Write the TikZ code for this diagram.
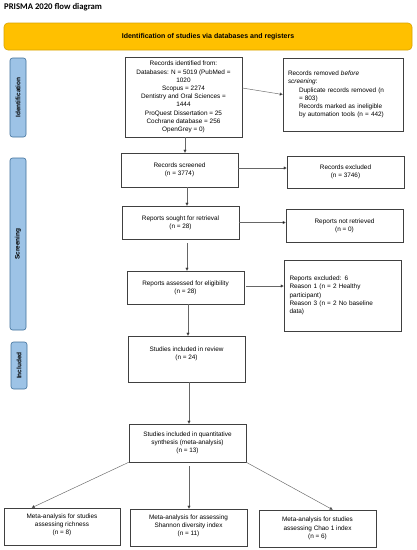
\documentclass[tikz,border=0pt]{standalone}
\usepackage{fontspec}
\setmainfont{Liberation Sans}
\newfontfamily\titlefont{Carlito}
\usetikzlibrary{arrows.meta,calc}
\definecolor{bannerfill}{HTML}{FFC000}
\definecolor{bannerline}{HTML}{D9A400}
\definecolor{sidefill}{HTML}{9DC3E6}
\definecolor{sideline}{HTML}{41719C}
\tikzset{
  box/.style={draw=black!75, line width=0.5pt, fill=white, inner sep=1pt, align=center,
    font=\fontsize{6.4}{8.2}\selectfont},
  side/.style={draw=sideline, fill=sidefill, rounded corners=2.5pt, line width=0.6pt,
    rotate=90, inner sep=0pt, font=\bfseries\fontsize{6.5}{7}\selectfont},
  arr/.style={draw=black!60, line width=0.45pt, -{Triangle[length=3pt,width=3pt,fill=black]}},
}
\begin{document}
\begin{tikzpicture}[x=1pt,y=-1pt]
\useasboundingbox (0,0) rectangle (416,550);
\fill[white] (0,0) rectangle (416,550);

\node[anchor=west, inner sep=0pt, font=\titlefont\bfseries\fontsize{8.7}{10}\selectfont] (title) at (4,7) {PRISMA 2020 flow diagram};

\node[draw=bannerline, fill=bannerfill, rounded corners=4pt, line width=0.6pt,
  minimum width=408pt, minimum height=27pt, inner sep=0pt,
  font=\bfseries\fontsize{7}{8}\selectfont] (banner) at (208,36.5)
  {Identification of studies via databases and registers};

% side labels
\node[side, minimum width=79pt, minimum height=16pt] (sideid) at (18,97.5) {Identification};
\node[side, minimum width=172pt, minimum height=16pt] (sidescr) at (18,244) {Screening};
\node[side, minimum width=47pt, minimum height=16pt] (sideinc) at (19,365.5) {Included};

% boxes
\node[box, minimum width=117pt, minimum height=80pt] (ident) at (183.5,97)
  {Records identified from:\\ Databases: N = 5019 (PubMed =\\ 1020\\ Scopus = 2274\\
   Dentistry and Oral Sciences =\\ 1444\\ ProQuest Dissertation = 25\\
   Cochrane database = 256\\ OpenGrey = 0)};
\node[box, minimum width=120pt, minimum height=73pt, text width=110pt, align=left] (removed) at (343,94.5)
  {Records removed \textit{before}\\ \textit{screening}:\\
   \hspace*{11pt}Duplicate records removed (n\\ \hspace*{11pt}= 803)\\
   \hspace*{11pt}Records marked as ineligible\\ \hspace*{11pt}by automation tools (n = 442)};
\node[box, minimum width=117pt, minimum height=34pt] (screened) at (179.5,170)
  {Records screened\\ (n = 3774)};
\node[box, minimum width=117pt, minimum height=32pt] (excluded) at (345.5,172)
  {Records excluded\\ (n = 3746)};
\node[box, minimum width=117pt, minimum height=33pt] (sought) at (180.5,222.5)
  {Reports sought for retrieval\\ (n = 28)};
\node[box, minimum width=117pt, minimum height=33pt] (notret) at (344.5,225.5)
  {Reports not retrieved\\ (n = 0)};
\node[box, minimum width=117pt, minimum height=33pt] (assessed) at (185.5,287.5)
  {Reports assessed for eligibility\\ (n = 28)};
\node[box, minimum width=117pt, minimum height=71pt, text width=106pt, align=left] (repexcl) at (342.5,295.5)
  {Reports excluded: 6\\ Reason 1 (n = 2 Healthy\\ participant)\\ Reason 3 (n = 2 No baseline\\ data)};
\node[box, minimum width=117pt, minimum height=46pt] (review) at (186.5,359)
  {Studies included in review\\ (n = 24)\\[3pt]\mbox{}};
\node[box, minimum width=117pt, minimum height=38pt] (synth) at (187.5,443)
  {Studies included in quantitative\\ synthesis (meta-analysis)\\ (n = 13)};
\node[box, minimum width=116pt, minimum height=37pt] (rich) at (62,526.5)
  {Meta-analysis for studies\\ assessing richness\\ (n = 8)\\[-3pt]\mbox{}};
\node[box, minimum width=117pt, minimum height=37pt] (shannon) at (188.5,527.5)
  {Meta-analysis for assessing\\ Shannon diversity index\\ (n = 11)\\[-3pt]\mbox{}};
\node[box, minimum width=117pt, minimum height=37pt] (chao) at (317.5,528.5)
  {Meta-analysis for studies\\ assessing Chao 1 index\\ (n = 6)};

% arrow columns
\coordinate (colA) at (185,0);
\coordinate (colB) at (187,0);
\coordinate (colC) at (188,0);
\coordinate (colD) at (189,0);
\coordinate (richtop) at ($(rich.north west)+(28,0)$);
\coordinate (chaotop) at ($(chao.north west)+(74,0)$);

% arrows
\draw[arr] (ident.south -| colA) -- (screened.north -| colA);
\draw[arr] ($(ident.east)+(0,-9)$) -- (removed.west);
\draw[arr] ($(screened.east)+(0,-2)$) -- ($(screened.east -| excluded.west)+(0,-2)$);
\draw[arr] (screened.south -| colB) -- (sought.north -| colB);
\draw[arr] (sought.east) -- (sought.east -| notret.west);
\draw[arr, shorten <=4pt] (sought.south -| colB) -- (assessed.north -| colB);
\draw[arr, shorten <=2pt] ($(assessed.east)+(0,-1.5)$) -- ($(assessed.east -| repexcl.west)+(0,-1.5)$);
\draw[arr] (assessed.south -| colC) -- (review.north -| colC);
\draw[arr] (review.south -| colD) -- (synth.north -| colD);
\draw[arr] (synth.south west) -- (richtop);
\draw[arr, shorten <=4pt] (synth.south -| colD) -- (shannon.north -| colD);
\draw[arr] (synth.south east) -- (chaotop);
\end{tikzpicture}
\end{document}
